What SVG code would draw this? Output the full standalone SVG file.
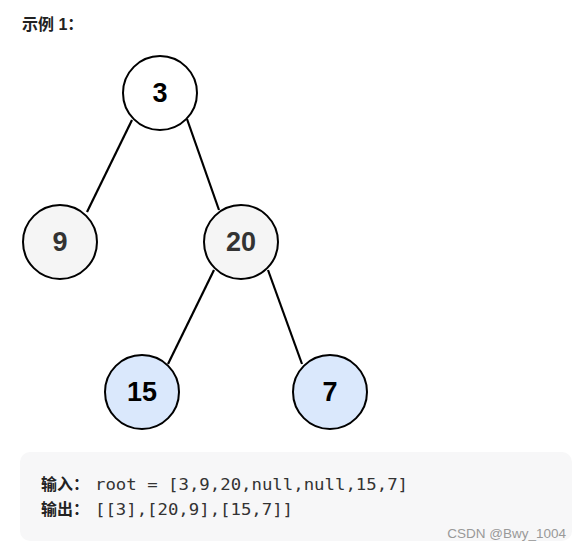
<svg xmlns="http://www.w3.org/2000/svg" width="582" height="551" viewBox="0 0 582 551">
<style>
.n{stroke:#000;stroke-width:2}
.w{fill:#fff}
.g{fill:#f5f5f5}
.b{fill:#dae8fc}
.lbl{font-family:"Liberation Sans",Arial,sans-serif;font-weight:bold;font-size:27px;text-anchor:middle;dominant-baseline:central}
.e{stroke:#000;stroke-width:2.2;fill:none}
.cj{font-family:"Liberation Sans","Noto Sans CJK SC",sans-serif;font-weight:bold;font-size:16px;fill:#222}
.mono{font-family:"DejaVu Sans Mono","Liberation Mono",monospace;font-size:16px;fill:#333}
</style>
<rect width="582" height="551" fill="#fff"/>
<text class="cj" x="22" y="30" font-size="17">示例 1：</text>
<g id="edges">
<line class="e" x1="132" y1="120" x2="87" y2="212"/>
<line class="e" x1="187" y1="119" x2="219" y2="210"/>
<line class="e" x1="214" y1="270" x2="168" y2="364"/>
<line class="e" x1="268" y1="270" x2="302" y2="364"/>
</g>
<g id="n3"><circle class="n w" cx="160" cy="93" r="37"/><text class="lbl" x="160" y="93" fill="#000">3</text></g>
<g id="n9"><circle class="n g" cx="60" cy="242" r="37"/><text class="lbl" x="60" y="242" fill="#333">9</text></g>
<g id="n20"><circle class="n g" cx="241" cy="242" r="37"/><text class="lbl" x="241" y="242" fill="#333">20</text></g>
<g id="n15"><circle class="n b" cx="142" cy="392" r="37"/><text class="lbl" x="142" y="392" fill="#000">15</text></g>
<g id="n7"><circle class="n b" cx="330" cy="392" r="37"/><text class="lbl" x="330" y="392" fill="#000">7</text></g>
<g id="box">
<rect x="20" y="452" width="552" height="89" rx="10" fill="#f7f7f8"/>
<text class="cj" x="41" y="490">输入：</text>
<text class="mono" x="95" y="490" textLength="313" lengthAdjust="spacingAndGlyphs">root = [3,9,20,null,null,15,7]</text>
<text class="cj" x="41" y="515">输出：</text>
<text class="mono" x="95" y="515" textLength="198" lengthAdjust="spacingAndGlyphs">[[3],[20,9],[15,7]]</text>
<text x="566" y="538" text-anchor="end" font-family="Liberation Sans,Arial,sans-serif" font-size="13.5" fill="#999">CSDN @Bwy_1004</text>
</g>
</svg>
